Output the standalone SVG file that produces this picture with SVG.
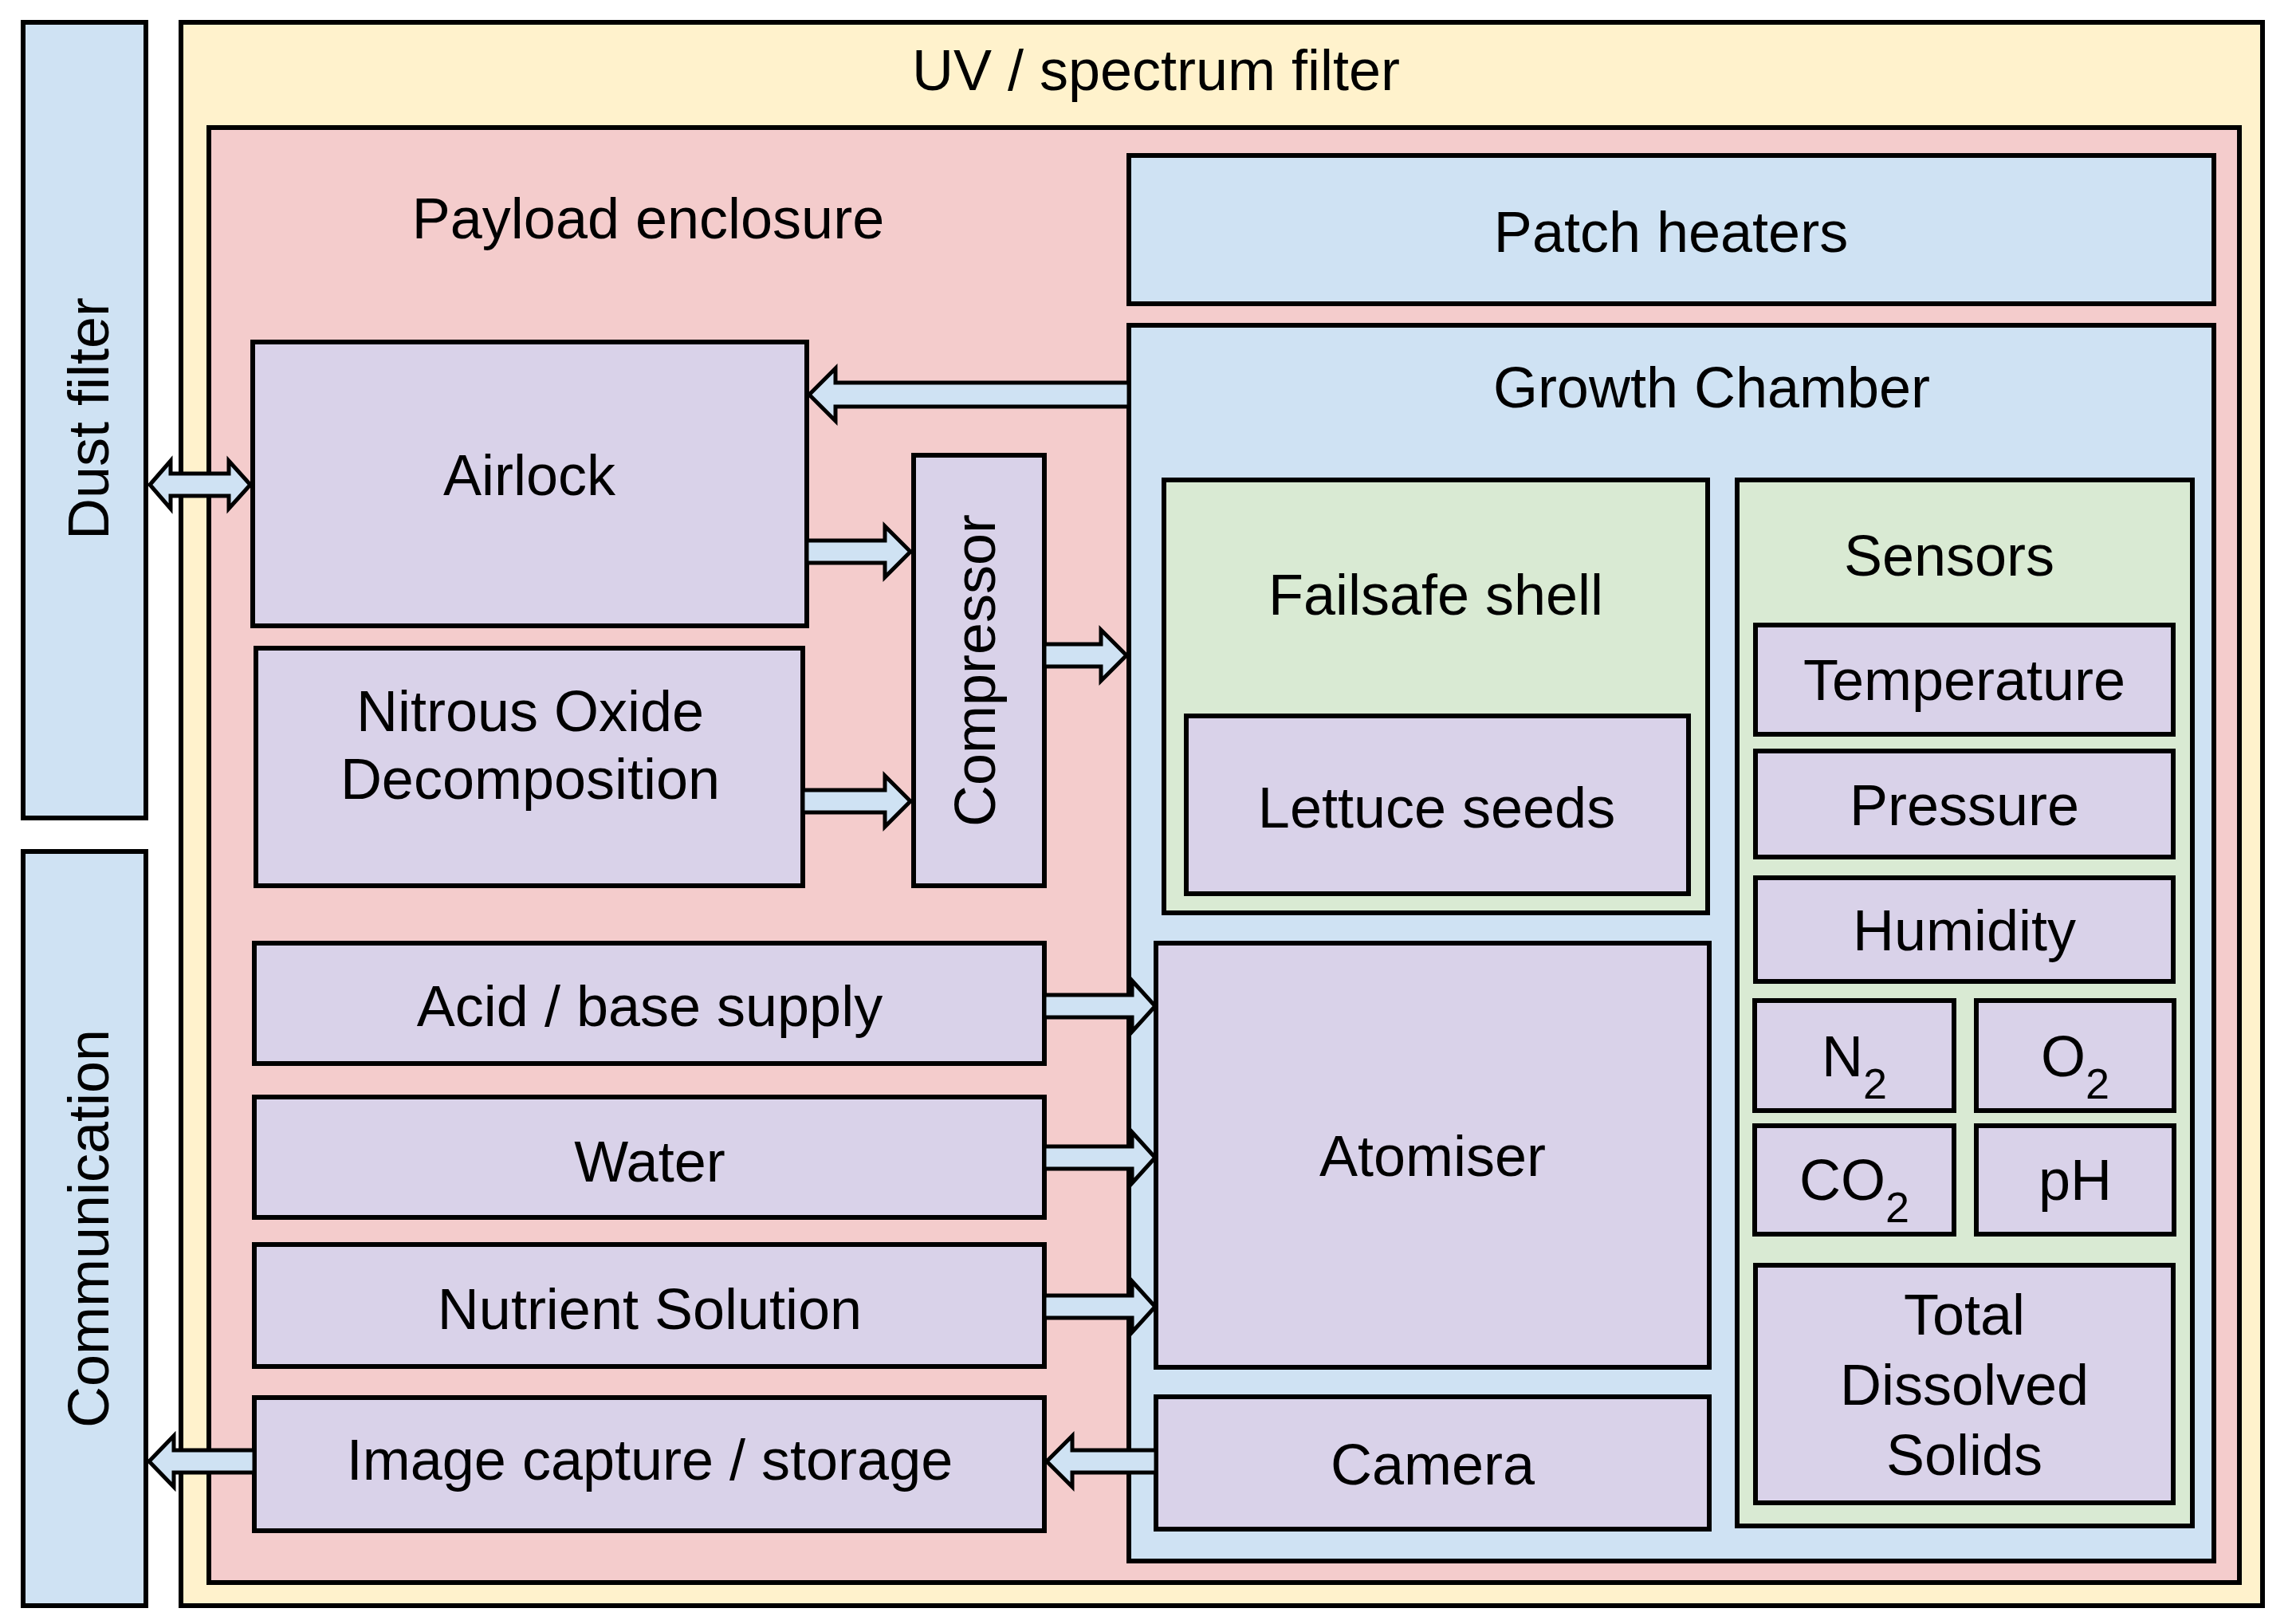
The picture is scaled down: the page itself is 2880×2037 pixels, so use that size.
<svg xmlns="http://www.w3.org/2000/svg" width="2880" height="2037" viewBox="0 0 2880 2037">
<style>
  .b { stroke: #000; stroke-width: 6; stroke-linejoin: miter; }
  .yel { fill: #fff2cc; }
  .pink { fill: #f4cccc; }
  .blue { fill: #cfe2f3; }
  .green { fill: #d9ead3; }
  .purp { fill: #d9d2e9; }
  text { font-family: "Liberation Sans", Arial, sans-serif; font-size: 72px; fill: #000; text-anchor: middle; }
  .sub { font-size: 54px; }
  .arr { fill: #cfe2f3; stroke: #000; stroke-width: 5; stroke-linejoin: miter; }
</style>
<rect x="0" y="0" width="2880" height="2037" fill="#ffffff"/>

<g id="dust-filter">
  <rect class="b blue" x="29" y="28" width="154" height="998"/>
  <text transform="translate(136,525) rotate(-90)">Dust filter</text>
</g>
<g id="communication">
  <rect class="b blue" x="29" y="1068" width="154" height="946"/>
  <text transform="translate(136,1541) rotate(-90)">Communication</text>
</g>
<g id="uv-filter">
  <rect class="b yel" x="227" y="28" width="2611" height="1986"/>
  <text x="1450" y="113">UV / spectrum filter</text>
</g>
<g id="payload-enclosure">
  <rect class="b pink" x="262" y="160" width="2547" height="1825"/>
  <text x="813" y="299">Payload enclosure</text>
</g>
<g id="patch-heaters">
  <rect class="b blue" x="1416" y="195" width="1361" height="186"/>
  <text x="2096" y="316">Patch heaters</text>
</g>
<g id="growth-chamber">
  <rect class="b blue" x="1416" y="408" width="1361" height="1550"/>
  <text x="2147" y="511">Growth Chamber</text>
</g>
<g id="airlock">
  <rect class="b purp" x="317" y="429" width="695" height="356"/>
  <text x="664" y="621">Airlock</text>
</g>
<g id="nitrous-oxide">
  <rect class="b purp" x="321" y="813" width="686" height="298"/>
  <text x="665" y="917">Nitrous Oxide</text>
  <text x="665" y="1002">Decomposition</text>
</g>
<g id="compressor">
  <rect class="b purp" x="1146" y="571" width="164" height="540"/>
  <text transform="translate(1248,841) rotate(-90)">Compressor</text>
</g>
<g id="acid-base">
  <rect class="b purp" x="319" y="1183" width="991" height="151"/>
  <text x="815" y="1287">Acid / base supply</text>
</g>
<g id="water">
  <rect class="b purp" x="319" y="1376" width="991" height="151"/>
  <text x="815" y="1482">Water</text>
</g>
<g id="nutrient">
  <rect class="b purp" x="319" y="1561" width="991" height="153"/>
  <text x="815" y="1667">Nutrient Solution</text>
</g>
<g id="image-capture">
  <rect class="b purp" x="319" y="1753" width="991" height="167"/>
  <text x="815" y="1856">Image capture / storage</text>
</g>
<g id="failsafe-shell">
  <rect class="b green" x="1460" y="602" width="682" height="543"/>
  <text x="1801" y="771">Failsafe shell</text>
</g>
<g id="lettuce-seeds">
  <rect class="b purp" x="1488" y="898" width="630" height="223"/>
  <text x="1802" y="1038">Lettuce seeds</text>
</g>
<g id="atomiser">
  <rect class="b purp" x="1450" y="1183" width="694" height="532"/>
  <text x="1797" y="1475">Atomiser</text>
</g>
<g id="camera">
  <rect class="b purp" x="1450" y="1752" width="694" height="166"/>
  <text x="1797" y="1862">Camera</text>
</g>
<g id="sensors">
  <rect class="b green" x="2179" y="602" width="571" height="1312"/>
  <text x="2445" y="722">Sensors</text>
</g>
<g id="temperature">
  <rect class="b purp" x="2202" y="784" width="524" height="137"/>
  <text x="2464" y="878">Temperature</text>
</g>
<g id="pressure">
  <rect class="b purp" x="2202" y="942" width="524" height="133"/>
  <text x="2464" y="1035">Pressure</text>
</g>
<g id="humidity">
  <rect class="b purp" x="2202" y="1101" width="524" height="130"/>
  <text x="2464" y="1192">Humidity</text>
</g>
<g id="n2">
  <rect class="b purp" x="2201" y="1255" width="250" height="138"/>
  <text x="2326" y="1350">N<tspan class="sub" dy="28">2</tspan></text>
</g>
<g id="o2">
  <rect class="b purp" x="2479" y="1255" width="248" height="138"/>
  <text x="2603" y="1350">O<tspan class="sub" dy="28">2</tspan></text>
</g>
<g id="co2">
  <rect class="b purp" x="2201" y="1412" width="250" height="136"/>
  <text x="2326" y="1505">CO<tspan class="sub" dy="28">2</tspan></text>
</g>
<g id="ph">
  <rect class="b purp" x="2479" y="1412" width="248" height="136"/>
  <text x="2603" y="1505">pH</text>
</g>
<g id="tds">
  <rect class="b purp" x="2202" y="1587" width="524" height="298"/>
  <text x="2464" y="1674">Total</text>
  <text x="2464" y="1762">Dissolved</text>
  <text x="2464" y="1850">Solids</text>
</g>

<g id="connectors">
  <!-- Growth Chamber -> Airlock (left) -->
  <polygon class="arr" points="1416,480 1048,480 1048,462 1015,495 1048,528 1048,510 1416,510"/>
  <!-- Dust filter <-> Airlock (double) -->
  <polygon class="arr" points="188,608 214,578 214,594 287,594 287,578 314,608 287,638 287,622 214,622 214,638"/>
  <!-- Airlock -> Compressor -->
  <polygon class="arr" points="1012,678 1110,678 1110,660 1142,692 1110,724 1110,706 1012,706"/>
  <!-- NOD -> Compressor -->
  <polygon class="arr" points="1007,991 1110,991 1110,973 1142,1005 1110,1037 1110,1019 1007,1019"/>
  <!-- Compressor -> Growth Chamber -->
  <polygon class="arr" points="1310,808 1381,808 1381,790 1413,822 1381,854 1381,836 1310,836"/>
  <!-- Acid -> Atomiser -->
  <polygon class="arr" points="1310,1248 1420,1248 1420,1230 1449,1262 1420,1294 1420,1276 1310,1276"/>
  <!-- Water -> Atomiser -->
  <polygon class="arr" points="1310,1438 1420,1438 1420,1420 1449,1452 1420,1484 1420,1466 1310,1466"/>
  <!-- Nutrient -> Atomiser -->
  <polygon class="arr" points="1310,1625 1420,1625 1420,1607 1449,1639 1420,1671 1420,1653 1310,1653"/>
  <!-- Camera -> Image capture (left) -->
  <polygon class="arr" points="1450,1819 1345,1819 1345,1801 1313,1833 1345,1865 1345,1847 1450,1847"/>
  <!-- Image capture -> Communication (left) -->
  <polygon class="arr" points="319,1819 218,1819 218,1801 187,1833 218,1865 218,1847 319,1847"/>
</g>
</svg>
